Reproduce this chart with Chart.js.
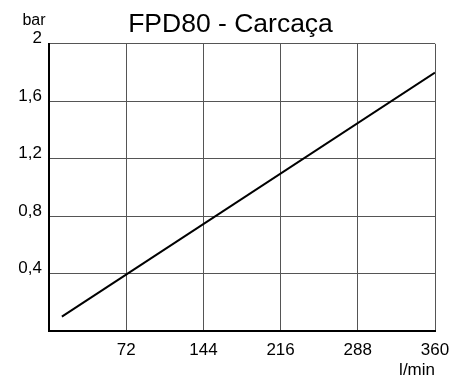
<!DOCTYPE html>
<html><head><meta charset="utf-8">
<script src="https://cdn.jsdelivr.net/npm/chart.js@4/dist/chart.umd.min.js"></script>
<style>html,body{margin:0;padding:0;background:#fff}</style>
</head><body>
<canvas id="c" width="451" height="377"></canvas>
<script>
const flowX = [12, 360];
const pressureY = [0.1, 1.8];
const xTicks = [0, 72, 144, 216, 288, 360];
const yTicks = [0, 0.4, 0.8, 1.2, 1.6, 2];
const titleText = 'FPD80 - Carcaça';
const xUnit = 'l/min';
const yUnit = 'bar';

const FONT = "'Liberation Sans', Arial, Helvetica, sans-serif";
Chart.defaults.font.family = FONT;
Chart.defaults.color = '#000';

const unitPlugin = {
  id: 'unitPlugin',
  afterDraw(chart) {
    const ctx = chart.ctx;
    ctx.save();
    ctx.font = '16px ' + FONT;
    ctx.fillStyle = '#000';
    ctx.textAlign = 'center';
    ctx.textBaseline = 'alphabetic';
    ctx.fillText(yUnit, 34, 25);
    ctx.restore();
  }
};

new Chart(document.getElementById('c'), {
  type: 'line',
  data: {
    datasets: [{
      data: flowX.map((x, i) => ({x: x, y: pressureY[i]})),
      borderColor: '#000',
      borderWidth: 2,
      pointRadius: 0,
      tension: 0,
      fill: false
    }]
  },
  options: {
    responsive: false,
    devicePixelRatio: 1,
    animation: false,
    layout: {padding: {left: 10, right: 0, top: 0, bottom: 0}},
    plugins: {
      legend: {display: false},
      tooltip: {enabled: false},
      title: {
        display: true,
        text: titleText,
        font: {size: 26.5, weight: 'normal', lineHeight: 1.2},
        color: '#000',
        padding: {top: 9, bottom: 3}
      }
    },
    scales: {
      x: {
        type: 'linear',
        min: 0, max: 360,
        afterBuildTicks: s => { s.ticks = xTicks.map(v => ({value: v})); },
        afterFit: s => { s.height = 46; s.paddingRight = 16; s.paddingLeft = 0; },
        ticks: {
          padding: 9,
          font: {size: 17},
          color: '#000',
          maxRotation: 0,
          callback: v => v === 0 ? '' : String(v)
        },
        grid: {color: '#555', lineWidth: 1, drawTicks: false},
        border: {color: '#000', width: 2},
        title: {display: true, text: xUnit, align: 'end', font: {size: 17, lineHeight: 1.0}, color: '#000', padding: {top: 0, bottom: -2}}
      },
      y: {
        type: 'linear',
        min: 0, max: 2,
        afterBuildTicks: s => { s.ticks = yTicks.map(v => ({value: v})); },
        afterFit: s => { s.width = 39; },
        ticks: {
          padding: 7,
          labelOffset: -5,
          font: {size: 17},
          color: '#000',
          callback: v => v === 0 ? '' : String(+v.toFixed(1)).replace('.', ',')
        },
        grid: {color: '#555', lineWidth: 1, drawTicks: false},
        border: {color: '#000', width: 2}
      }
    }
  },
  plugins: [unitPlugin]
});
</script>
</body></html>
